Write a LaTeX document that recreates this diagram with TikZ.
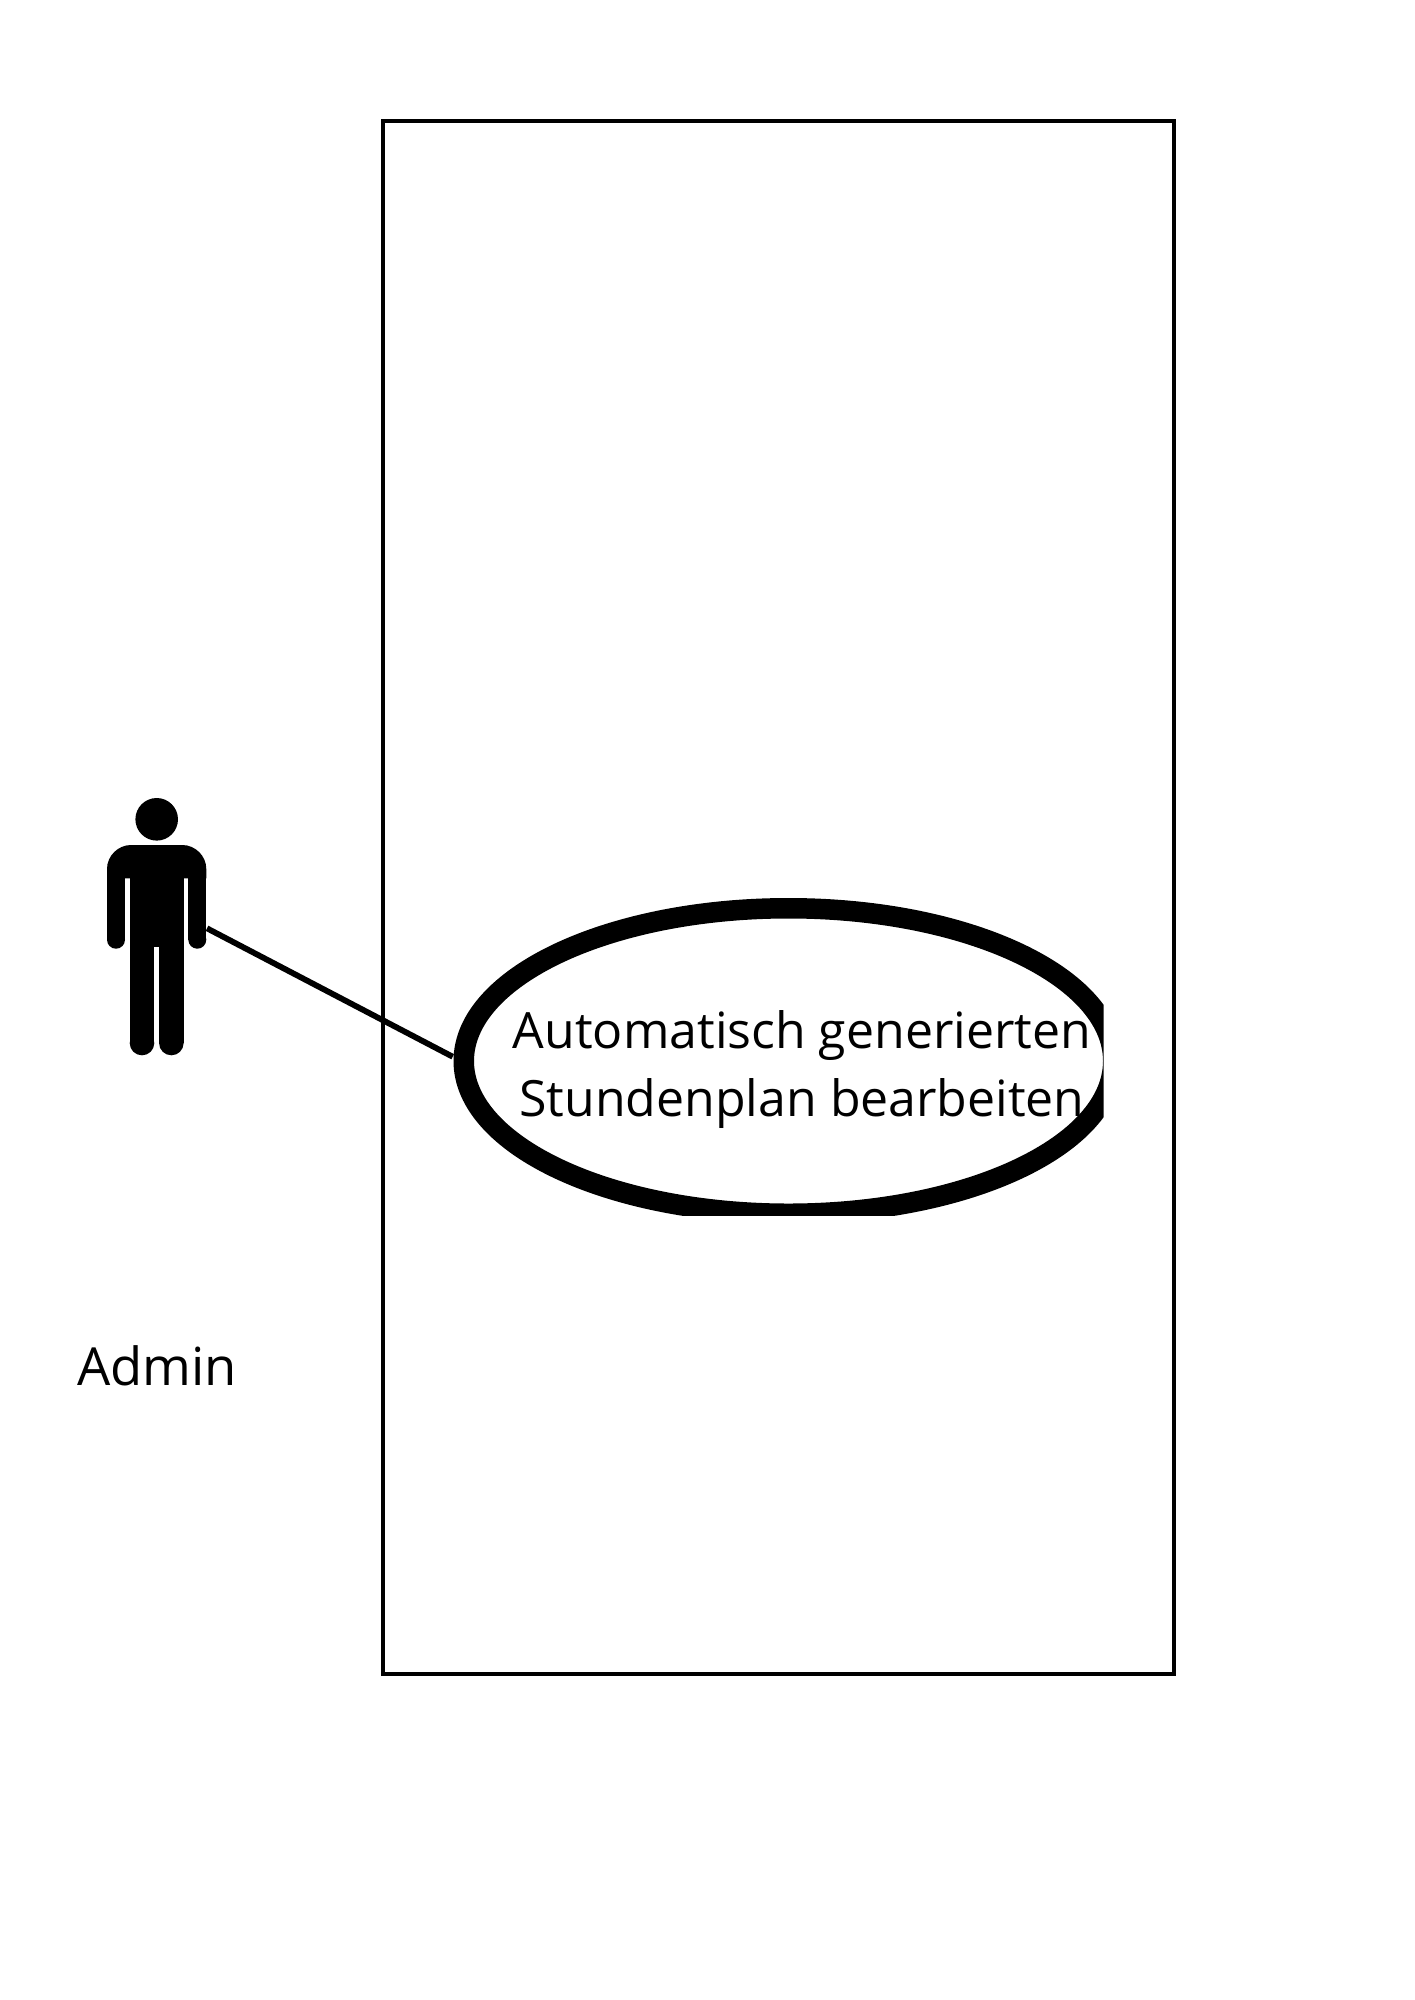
\documentclass[tikz,border=0pt]{standalone}
\usepackage{fontspec}
\setmainfont{Open Sans}
\usetikzlibrary{shapes.geometric}
\tikzset{
  person/.style={fill=black,draw=none},
  frameline/.style={draw=black,line width=3.6pt},
  connector/.style={draw=black,line width=5.8pt},
  caselabel/.style={anchor=base,inner sep=0pt,font=\fontsize{50}{60}\selectfont,text=black},
  actorlabel/.style={anchor=base,inner sep=0pt,font=\fontsize{52.5}{60}\selectfont,text=black}
}
\begin{document}
\begin{tikzpicture}[x=1pt,y=-1pt]
\useasboundingbox (0,0) rectangle (1414,2000);
\fill[white] (0,0) rectangle (1414,2000);
% system boundary
\draw[frameline] (383,121) rectangle (1174,1674);
% actor
\fill[person] (156.7,819.3) circle[radius=21.3pt];
\fill[person] (107,878.3) -- (107,869) .. controls (107,855.7) and (118.2,845) .. (131,845) -- (182.3,845) .. controls (195.1,845) and (206.3,855.7) .. (206.3,869) -- (206.3,878.3) -- cycle;
\fill[person] (107,878) rectangle (125,939.7);
\fill[person] (188.3,878) rectangle (206.3,939.7);
\fill[person] (116,939.7) circle[radius=9pt];
\fill[person] (197.3,939.7) circle[radius=9pt];
\fill[person] (129.7,878) rectangle (183.7,947.3);
\fill[person] (129.7,947) rectangle (154.3,1043);
\fill[person] (159,947) rectangle (183.7,1043);
\fill[person] (142,1043) circle[radius=12.3pt];
\fill[person] (171.35,1043) circle[radius=12.3pt];
\coordinate (hand) at (207,928.3);
\coordinate (caseedge) at (452.7,1056.7);
% connector
\draw[connector] (hand) -- (caseedge);
% use case, cut off on its right and lower sides
\begin{scope}
\clip (440,880) rectangle (1103.6,1215.5);
\node[ellipse,draw=black,fill=white,line width=20.5pt,minimum width=649.5pt,minimum height=305.5pt,inner sep=0pt,outer sep=0pt] (usecase) at (788.5,1061) {};
\end{scope}
\node[caselabel] (line1) at (802,1048) {Automatisch generierten};
\node[caselabel] (line2) at (802,1116.7) {Stundenplan bearbeiten};
\node[actorlabel] (admin) at (157,1385) {Admin};
\end{tikzpicture}
\end{document}
